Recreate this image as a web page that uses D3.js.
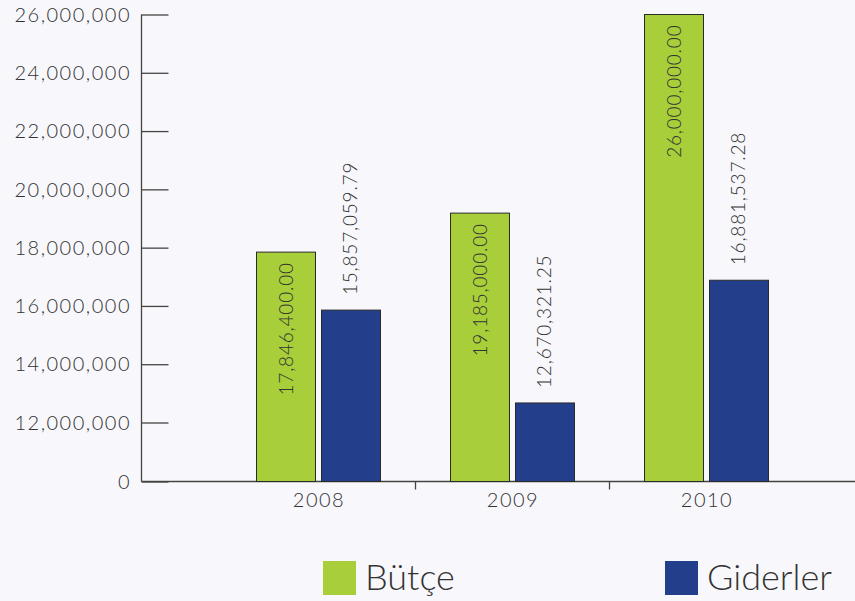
<!DOCTYPE html>
<html>
<head>
<meta charset="utf-8">
<script src="https://cdn.jsdelivr.net/npm/d3@7"></script>
<style>
  html, body { margin: 0; padding: 0; background: #f8f8fc; }
  svg { display: block; }
  text { font-family: "Lato", "DejaVu Sans", sans-serif; font-weight: 300; fill: #333; }
</style>
</head>
<body>
<svg id="chart" width="855" height="601"></svg>
<script>
// Budget vs. expenditure by year
const years = ["2008", "2009", "2010"];
const series = ["Bütçe", "Giderler"];
const butce = [17846400.00, 19185000.00, 26000000.00];
const giderler = [15857059.79, 12670321.25, 16881537.28];
const yTicks = [0, 12000000, 14000000, 16000000, 18000000, 20000000, 22000000, 24000000, 26000000];
const colors = ["#a8ce3a", "#233f8c"];

const svg = d3.select("#chart");
const W = 855, H = 601;
svg.append("rect").attr("width", W).attr("height", H).attr("fill", "#f8f8fc");

const axisX = 141.5;

// Broken value axis: 0..12M squeezed into a single tick step
const y = d3.scaleLinear()
  .domain([0, 12000000, 26000000])
  .range([481.5, 422.5, 14.5]);

const x = d3.scaleBand().domain(years).range([221, 803]);
const groupW = 124;
const xSub = d3.scaleBand().domain(series)
  .range([x.bandwidth() / 2 - groupW / 2, x.bandwidth() / 2 + groupW / 2])
  .paddingInner(0.0923);

const fmtTick = d3.format(",");
const fmtVal = d3.format(",.2f");

// Y axis with inward ticks
const yAxis = d3.axisRight(y)
  .tickValues(yTicks)
  .tickSize(27)
  .tickFormat("");
const yg = svg.append("g").attr("transform", `translate(${axisX},0)`).call(yAxis);
yg.select(".domain").attr("stroke", "#444").attr("stroke-width", 1.3)
  .attr("d", `M0,${y(26000000)}V${y(0)}`);
yg.selectAll(".tick line").attr("stroke", "#444").attr("stroke-width", 1.3);

svg.append("g").selectAll("text").data(yTicks).join("text")
  .attr("x", 131)
  .attr("y", d => y(d))
  .attr("dy", "0.36em")
  .attr("text-anchor", "end")
  .attr("font-size", 20)
  .attr("letter-spacing", 1.5)
  .text(d => fmtTick(d));

// X axis
svg.append("line")
  .attr("x1", axisX).attr("x2", W)
  .attr("y1", y(0)).attr("y2", y(0))
  .attr("stroke", "#444").attr("stroke-width", 1.3);

svg.append("g").selectAll("line").data(years.slice(1)).join("line")
  .attr("x1", d => x(d) + 0.5).attr("x2", d => x(d) + 0.5)
  .attr("y1", y(0)).attr("y2", y(0) + 8)
  .attr("stroke", "#444").attr("stroke-width", 1.3);

svg.append("g").selectAll("text").data(years).join("text")
  .attr("x", d => x(d) + x.bandwidth() / 2 + 1)
  .attr("y", 507)
  .attr("text-anchor", "middle")
  .attr("font-size", 20)
  .attr("letter-spacing", 1.5)
  .text(d => d);

// Bars
const rows = years.map((yr, i) => ({ year: yr, values: [butce[i], giderler[i]] }));
const groups = svg.append("g").selectAll("g").data(rows).join("g")
  .attr("transform", d => `translate(${x(d.year)},0)`);

groups.selectAll("rect").data(d => d.values.map((v, j) => ({ key: series[j], v, j })))
  .join("rect")
  .attr("x", d => xSub(d.key) + 0.5)
  .attr("width", xSub.bandwidth())
  .attr("y", d => y(d.v))
  .attr("height", d => y(0) - y(d.v))
  .attr("fill", d => colors[d.j])
  .attr("stroke", "#2a2a2a")
  .attr("stroke-width", 1);

// Value labels: budget inside the bar top, spending above the bar
groups.selectAll("text").data(d => d.values.map((v, j) => ({ key: series[j], v, j })))
  .join("text")
  .attr("font-size", 19)
  .attr("letter-spacing", 0.8)
  .attr("transform", d => {
    const cx = xSub(d.key) + xSub.bandwidth() / 2 + 7;
    const ty = d.j === 0 ? y(d.v) + 10 : y(d.v) - 15;
    return `translate(${cx},${ty}) rotate(-90)`;
  })
  .attr("text-anchor", d => d.j === 0 ? "end" : "start")
  .attr("fill", d => d.j === 0 ? "#2b3a10" : "#333")
  .text(d => fmtVal(d.v));

// Legend
const legend = svg.append("g");
const legendX = [323, 665];
series.forEach((s, i) => {
  legend.append("rect")
    .attr("x", legendX[i]).attr("y", 561)
    .attr("width", 33).attr("height", 34)
    .attr("fill", colors[i]);
  legend.append("text")
    .attr("x", legendX[i] + 42).attr("y", 590)
    .attr("font-size", 36)
    .attr("fill", "#222")
    .text(s);
});
</script>
</body>
</html>
